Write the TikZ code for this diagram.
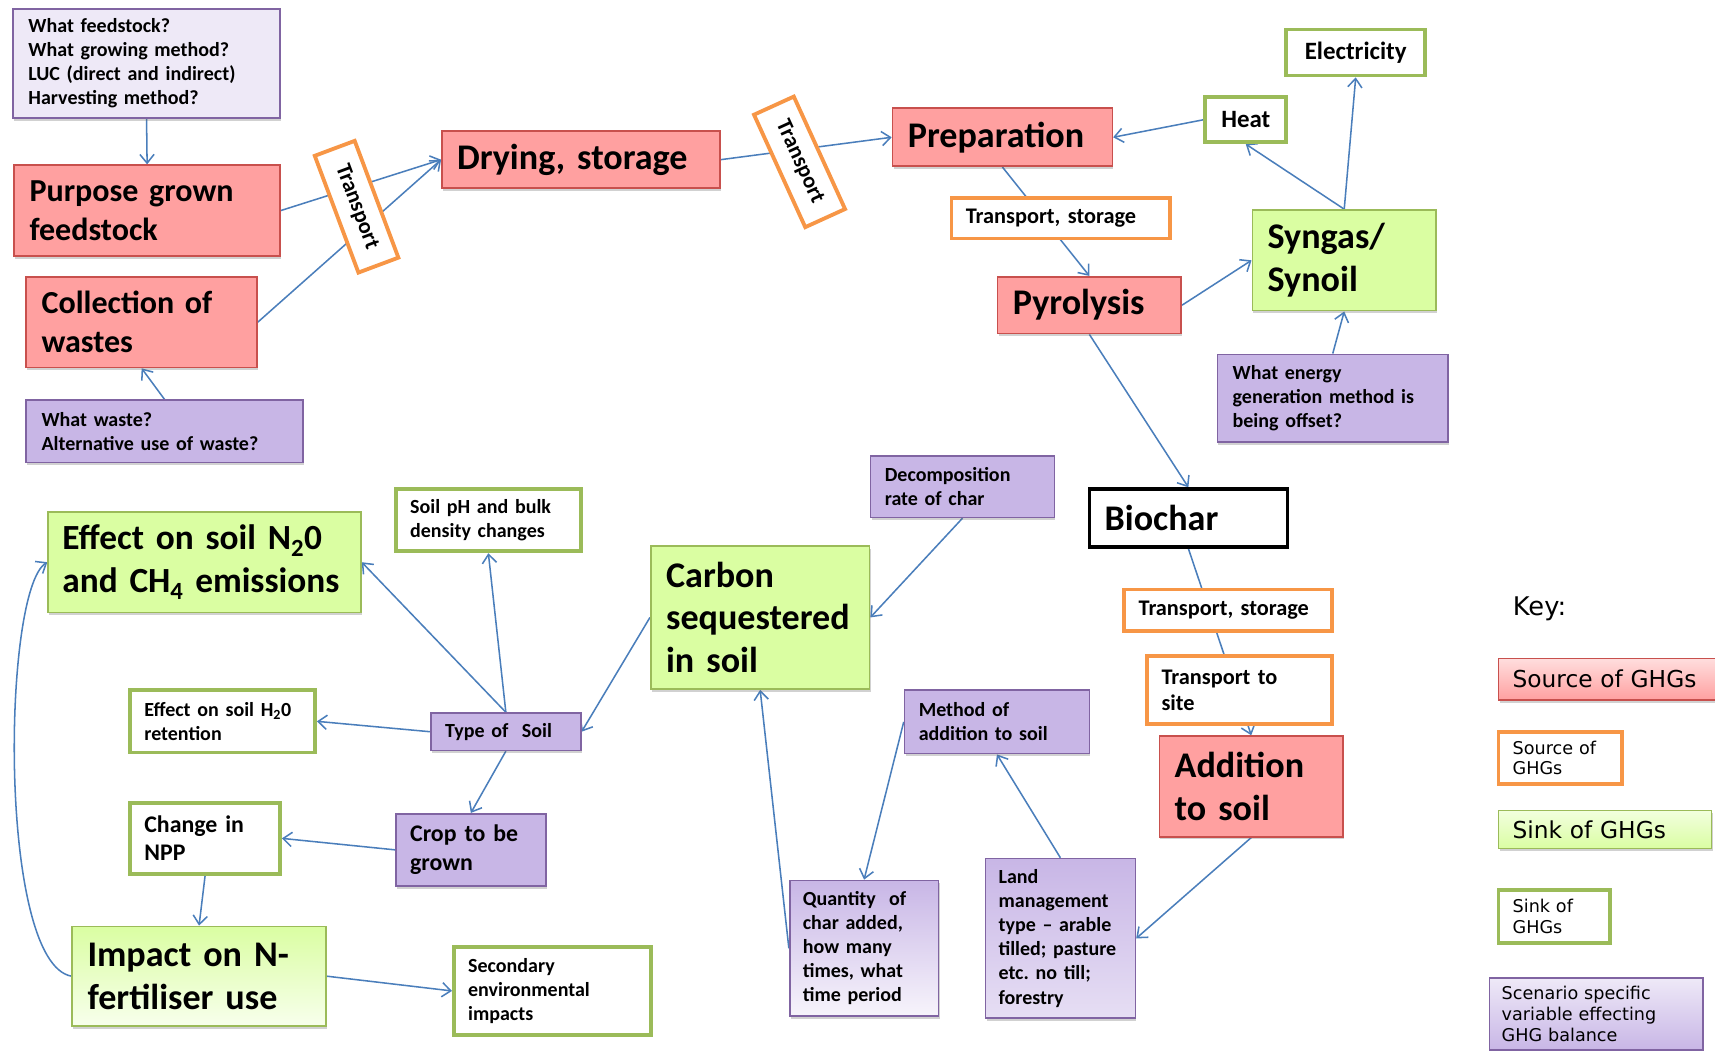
\documentclass[tikz,border=0pt]{standalone}
\usepackage{fontspec}
\newfontfamily\carl{Carlito}
\newfontfamily\keyf{DejaVu Sans}
\usetikzlibrary{arrows.meta,shadows}
\definecolor{srcF}{RGB}{255,160,160}
\definecolor{srcB}{RGB}{200,80,77}
\definecolor{sinkF}{RGB}{218,254,162}
\definecolor{sinkB}{RGB}{155,187,89}
\definecolor{purpF}{RGB}{200,182,230}
\definecolor{purpB}{RGB}{128,100,162}
\definecolor{lavF}{RGB}{238,233,247}
\definecolor{orB}{RGB}{247,150,70}
\definecolor{lineC}{RGB}{74,126,187}
\pgfdeclarelayer{bg}\pgfsetlayers{bg,main}
\begin{document}
\frenchspacing
\begin{tikzpicture}[x=1pt,y=-1pt,
  shd/.style={drop shadow={shadow xshift=1pt,shadow yshift=-2.5pt,opacity=0.3,fill=black!60}},
  box/.style={inner xsep=14pt,inner ysep=0pt,align=left,text=black},
  big/.style={font=\carl\bfseries\fontsize{33}{39}\selectfont},
  bigs/.style={font=\carl\bfseries\fontsize{29.3}{35.5}\selectfont},
  med/.style={font=\carl\bfseries\fontsize{21.8}{26}\selectfont},
  sml/.style={font=\carl\bfseries\fontsize{18.3}{22}\selectfont},
  tsz/.style={font=\carl\bfseries\fontsize{20.4}{24}\selectfont},
  src/.style={box,draw=srcB,fill=srcF,line width=1.5pt,shd},
  sink/.style={box,draw=sinkB,fill=sinkF,line width=1.5pt,shd},
  sinkw/.style={box,draw=sinkB,fill=white,line width=3.5pt},
  srcw/.style={box,draw=orB,fill=white,line width=3.5pt},
  var/.style={box,draw=purpB,fill=purpF,line width=1.5pt,shd},
  keybig/.style={font=\keyf\fontsize{21.3}{24}\selectfont},
  keysml/.style={font=\keyf\fontsize{16.1}{19}\selectfont},
  conn/.style={draw=lineC,line width=1.4pt,-{Straight Barb[length=8pt,width=13pt]}}
]
\useasboundingbox (0,0) rectangle (1568,961);
\clip (0,0) rectangle (1568,961);

% ---- top-left chain
\node[var,fill=lavF,sml,minimum width=244pt,minimum height=100pt,text width=216pt] (q1) at (134,58)
  {What feedstock?\\What growing method?\\LUC (direct and indirect)\\Harvesting method?};
\node[src,bigs,minimum width=243pt,minimum height=83pt,text width=215pt] (purpose) at (134.5,192.5)
  {Purpose grown\\feedstock};
\node[src,bigs,minimum width=211pt,minimum height=83pt,text width=183pt] (collect) at (129.5,294.5)
  {Collection of\\wastes};
\node[var,sml,minimum width=253pt,minimum height=57pt,text width=225pt] (waste) at (150.5,394.5)
  {What waste?\\Alternative use of waste?};
\node[srcw,tsz,rotate=-69.5,minimum width=114pt,minimum height=39pt,inner xsep=0pt,align=center] (tr1) at (326,189) {Transport};
\node[src,big,minimum width=254pt,minimum height=52pt,text width=226pt] (drying) at (531,146) {Drying, storage};
\node[srcw,tsz,rotate=-65.5,minimum width=113pt,minimum height=40pt,inner xsep=0pt,align=center] (tr2) at (731,148) {Transport};
\node[src,big,minimum width=201pt,minimum height=53pt,text width=173pt] (prep) at (916.5,125.5) {Preparation};
\node[sinkw,med,font=\carl\bfseries\fontsize{22.8}{26}\selectfont,minimum width=74pt,minimum height=41pt,inner xsep=0pt,align=center] (heat) at (1139,109.5) {Heat};
\node[sinkw,med,font=\carl\bfseries\fontsize{22.8}{26}\selectfont,minimum width=127pt,minimum height=42pt,inner xsep=0pt,align=center] (elec) at (1239.5,48) {Electricity};
\node[srcw,tsz,minimum width=200pt,minimum height=37pt,text width=174pt,inner xsep=13pt] (ts1) at (970,199.5) {Transport, storage};
\node[sink,big,minimum width=168pt,minimum height=92pt,text width=140pt] (syngas) at (1229,238) {Syngas/\\Synoil};
\node[src,big,minimum width=168pt,minimum height=52pt,text width=140pt] (pyro) at (996,279) {Pyrolysis};
\node[var,sml,minimum width=211pt,minimum height=80pt,text width=183pt] (energy) at (1218.5,364)
  {What energy\\generation method is\\being offset?};
\node[box,big,draw=black,fill=white,line width=3pt,minimum width=181pt,minimum height=53pt,text width=153pt] (biochar) at (1086.5,473.5) {Biochar};
\node[srcw,tsz,minimum width=190pt,minimum height=38pt,text width=164pt,inner xsep=13pt] (ts2) at (1123,558) {Transport, storage};
\node[srcw,tsz,minimum width=169pt,minimum height=62pt,text width=143pt,inner xsep=13pt] (tsite) at (1133.5,631) {Transport to\\site};
\node[src,big,minimum width=168pt,minimum height=92pt,text width=140pt] (addition) at (1144,719) {Addition\\to soil};

% ---- middle / bottom
\node[var,sml,minimum width=168pt,minimum height=56pt,text width=142pt,inner xsep=13pt] (decomp) at (880,445)
  {Decomposition\\rate of char};
\node[sink,big,minimum width=200pt,minimum height=131pt,text width=172pt] (carbon) at (695,564.5)
  {Carbon\\sequestered\\in soil};
\node[sink,big,font=\carl\bfseries\fontsize{32.3}{39}\selectfont,minimum width=286pt,minimum height=92pt,text width=260pt,inner xsep=13pt] (effn) at (187,514)
  {Effect on soil N\textsubscript{2}0\\and CH\textsubscript{4} emissions};
\node[sinkw,sml,minimum width=169pt,minimum height=57pt,text width=143pt,inner xsep=13pt] (soilph) at (446.5,475.5)
  {Soil pH and bulk\\density changes};
\node[sinkw,sml,minimum width=169pt,minimum height=57pt,text width=143pt,inner xsep=13pt] (effh) at (203.5,659.5)
  {Effect on soil H\textsubscript{2}0\\retention};
\node[var,sml,minimum width=137pt,minimum height=34pt,text width=111pt,inner xsep=13pt] (tsoil) at (462.5,669)
  {Type of\ \ Soil};
\node[var,med,minimum width=137pt,minimum height=66pt,text width=111pt,inner xsep=13pt] (crop) at (430.5,777)
  {Crop to be\\grown};
\node[sinkw,med,minimum width=137pt,minimum height=65pt,text width=111pt,inner xsep=13pt] (npp) at (187.5,766.5)
  {Change in\\NPP};
\node[sink,big,minimum width=232pt,minimum height=91pt,text width=204pt,
  top color=sinkF,middle color=sinkF,bottom color=sinkF!20!white] (impact) at (182,892.5)
  {Impact on N-\\fertiliser use};
\node[sinkw,sml,minimum width=180pt,minimum height=80pt,text width=154pt,inner xsep=13pt] (second) at (505,906)
  {Secondary\\environmental\\impacts};
\node[var,sml,minimum width=169pt,minimum height=58pt,text width=143pt,inner xsep=13pt] (method) at (911.5,660)
  {Method of\\addition to soil};
\node[var,sml,minimum width=136pt,minimum height=124pt,text width=112pt,inner xsep=12pt,
  top color=purpF,middle color=purpF,bottom color=purpF!15!white] (quant) at (790,867)
  {Quantity\ \ of\\char added,\\how many\\times, what\\time period};
\node[var,sml,minimum width=137pt,minimum height=146pt,text width=113pt,inner xsep=12pt,
  top color=purpF,middle color=purpF,bottom color=purpF!45!white] (land) at (969.5,858)
  {Land\\management\\type – arable\\tilled; pasture\\etc. no till;\\forestry};

% ---- key
\node[anchor=west,inner sep=0pt,font=\keyf\fontsize{23.5}{26}\selectfont] (keyt) at (1383,557) {Key:};
\node[box,keybig,draw=srcB,line width=1.3pt,top color=srcF!35!white,bottom color=srcF,shd,
  minimum width=210pt,minimum height=38pt,text width=184pt,inner xsep=13pt] (k1) at (1475,621) {Source of GHGs};
\node[srcw,keysml,minimum width=113pt,minimum height=48pt,text width=87pt,inner xsep=13pt] (k2) at (1426.5,693) {Source of\\GHGs};
\node[box,keybig,draw=sinkB,line width=1.3pt,top color=sinkF!35!white,bottom color=sinkF,shd,
  minimum width=195pt,minimum height=35pt,text width=169pt,inner xsep=13pt] (k3) at (1467.5,758.5) {Sink of GHGs};
\node[sinkw,keysml,minimum width=102pt,minimum height=48pt,text width=76pt,inner xsep=13pt] (k4) at (1421,838) {Sink of\\GHGs};
\node[box,keysml,draw=purpB,line width=1.3pt,top color=purpF!30!white,bottom color=purpF,
  minimum width=195pt,minimum height=66pt,text width=173pt,inner xsep=11pt] (k5) at (1459.5,927)
  {Scenario specific\\variable effecting\\GHG balance};

% ---- connectors
\begin{pgfonlayer}{bg}
\draw[conn] (q1.south) -- (purpose.north);
\draw[conn] (waste.north) -- (collect.south);
\draw[conn] (purpose.east) -- (drying.west);
\draw[conn] (collect.east) -- (drying.west);
\draw[conn] (drying.east) -- (prep.west);
\draw[conn] (heat.west) -- (prep.east);
\draw[conn] (prep.south) -- (pyro.north);
\draw[conn] (pyro.east) -- (syngas.west);
\draw[conn] (syngas.north) -- (heat.south);
\draw[conn] (syngas.north) -- (elec.south);
\draw[conn] (energy.north) -- (syngas.south);
\draw[conn] (pyro.south) -- (biochar.north);
\draw[conn] (biochar.south) -- (addition.north);
\draw[conn] (addition.south) -- (land.east);
\draw[conn] (land.north) -- (method.south);
\draw[conn] (method.west) -- (quant.north);
\draw[conn] (quant.west) -- (carbon.south);
\draw[conn] (decomp.south) -- (carbon.east);
\draw[conn] (carbon.west) -- (tsoil.east);
\draw[conn] (tsoil.north) -- (effn.east);
\draw[conn] (tsoil.north) -- (soilph.south);
\draw[conn] (tsoil.west) -- (effh.east);
\draw[conn] (tsoil.south) -- (crop.north);
\draw[conn] (crop.west) -- (npp.east);
\draw[conn] (npp.south) -- (impact.north);
\draw[conn] (impact.east) -- (second.west);
\draw[conn] (impact.west) .. controls (-2,880) and (2,540) .. (effn.west);
\end{pgfonlayer}
\end{tikzpicture}
\end{document}
